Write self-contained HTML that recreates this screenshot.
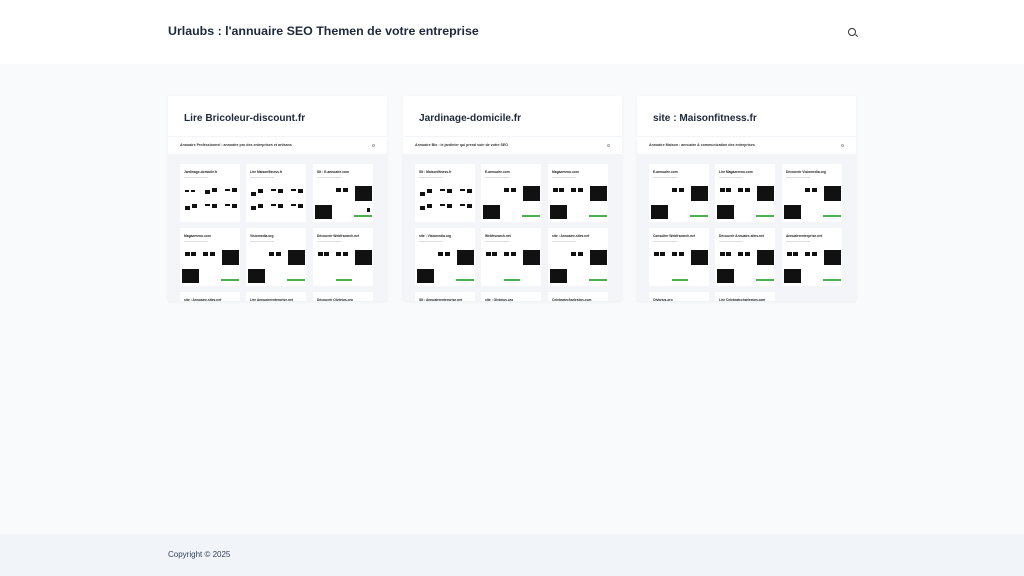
<!DOCTYPE html>
<html><head><meta charset="utf-8"><style>
*{margin:0;padding:0;box-sizing:border-box}
body{width:1024px;height:576px;background:#f8fafc;font-family:"Liberation Sans",sans-serif;position:relative;overflow:hidden;color:#1e293b}
.hdr{position:absolute;left:0;top:0;width:1024px;height:64px;background:#fff}
.hdr h1{position:absolute;left:168px;top:24px;font-size:12.4px;font-weight:bold;color:#1e293b;white-space:nowrap}
.srch{position:absolute;left:848px;top:28px;width:8px;height:8px;border:1.3px solid #333;border-radius:50%}
.srch:after{content:"";position:absolute;left:6px;top:6px;width:3px;height:1.3px;background:#333;transform:rotate(45deg)}
.ftr{position:absolute;left:0;top:534px;width:1024px;height:42px;background:#f1f5f9}
.ftr span{position:absolute;left:168px;top:16px;font-size:8px;color:#334155}
.card{position:absolute;top:96px;width:219px;height:205px;background:#fff;overflow:hidden;box-shadow:0 1px 3px rgba(0,0,0,.05)}
.card h2{position:absolute;left:16px;top:17px;font-size:10.1px;font-weight:bold;color:#1e293b;white-space:nowrap}
.sub{position:absolute;left:0;top:40px;width:219px;height:18px;border-top:1px solid #f1f5f9}
.sub span{position:absolute;left:12px;top:6px;font-size:3.6px;font-weight:bold;color:#333;white-space:nowrap}
.sub i{position:absolute;right:12px;top:7px;width:3px;height:3px;border:0.5px solid #aaa;border-radius:50%}
.gr{position:absolute;left:0;top:58px;width:219px;height:150px;background:#f3f5f8}
.t{position:absolute;width:60px;height:58px;background:#fff}
.t b{position:absolute;left:4px;top:6px;font-size:3.3px;color:#222;white-space:nowrap}
.t u{position:absolute;left:4px;top:13px;width:24px;height:1px;background:#ddd;text-decoration:none}
.k{position:absolute;background:#111}
.g{position:absolute;background:#4caf50}
</style></head><body>
<div class="hdr"><h1>Urlaubs : l'annuaire SEO Themen de votre entreprise</h1><div class="srch"></div></div>

<div class="card" style="left:168px"><h2>Lire Bricoleur-discount.fr</h2>
<div class="sub"><span>Annuaire Professionnel : annuaire pro des entreprises et artisans</span><i></i></div>
<div class="gr">
<div class="t" style="left:12px;top:10px"><b>Jardinage-domicile.fr</b><u></u>
<div class="k" style="left:5px;top:26px;width:4px;height:2px"></div><div class="k" style="left:11px;top:26px;width:4px;height:2px"></div><div class="k" style="left:25px;top:26px;width:5px;height:4px"></div><div class="k" style="left:32px;top:24px;width:5px;height:4px"></div><div class="k" style="left:45px;top:25px;width:5px;height:2px"></div><div class="k" style="left:52px;top:24px;width:5px;height:4px"></div>
<div class="k" style="left:5px;top:42px;width:5px;height:4px"></div><div class="k" style="left:12px;top:40px;width:5px;height:4px"></div><div class="k" style="left:25px;top:40px;width:5px;height:2px"></div><div class="k" style="left:32px;top:40px;width:5px;height:4px"></div><div class="k" style="left:45px;top:40px;width:5px;height:2px"></div><div class="k" style="left:52px;top:40px;width:5px;height:4px"></div></div>
<div class="t" style="left:78px;top:10px"><b>Lire Maisonfitness.fr</b><u></u>
<div class="k" style="left:5px;top:28px;width:5px;height:4px"></div><div class="k" style="left:12px;top:25px;width:5px;height:4px"></div><div class="k" style="left:25px;top:25px;width:5px;height:2px"></div><div class="k" style="left:32px;top:25px;width:5px;height:4px"></div><div class="k" style="left:45px;top:25px;width:5px;height:2px"></div><div class="k" style="left:52px;top:25px;width:5px;height:4px"></div>
<div class="k" style="left:5px;top:42px;width:5px;height:4px"></div><div class="k" style="left:12px;top:40px;width:5px;height:4px"></div><div class="k" style="left:25px;top:40px;width:5px;height:2px"></div><div class="k" style="left:32px;top:40px;width:5px;height:4px"></div><div class="k" style="left:45px;top:40px;width:5px;height:2px"></div><div class="k" style="left:52px;top:40px;width:5px;height:4px"></div></div>
<div class="t" style="left:145px;top:10px"><b>SIt : E-annuaire.com</b><u></u>
<div class="k" style="left:42px;top:22px;width:17px;height:15px"></div><div class="k" style="left:23px;top:24px;width:5px;height:4px"></div><div class="k" style="left:30px;top:24px;width:5px;height:4px"></div><div class="k" style="left:2px;top:41px;width:17px;height:14px"></div><div class="g" style="left:41px;top:51px;width:18px;height:2px"></div><div class="k" style="left:54px;top:44px;width:3px;height:4px"></div></div>
<div class="t" style="left:12px;top:74px"><b>Magazereno.com</b><u></u>
<div class="k" style="left:42px;top:22px;width:17px;height:15px"></div><div class="k" style="left:5px;top:24px;width:5px;height:4px"></div><div class="k" style="left:11px;top:24px;width:5px;height:4px"></div><div class="k" style="left:23px;top:24px;width:5px;height:4px"></div><div class="k" style="left:30px;top:24px;width:5px;height:4px"></div><div class="k" style="left:2px;top:41px;width:17px;height:14px"></div><div class="g" style="left:41px;top:51px;width:18px;height:2px"></div></div>
<div class="t" style="left:78px;top:74px"><b>Visiomedia.org</b><u></u>
<div class="k" style="left:42px;top:22px;width:17px;height:15px"></div><div class="k" style="left:23px;top:24px;width:5px;height:4px"></div><div class="k" style="left:30px;top:24px;width:5px;height:4px"></div><div class="k" style="left:2px;top:41px;width:17px;height:14px"></div><div class="g" style="left:41px;top:51px;width:18px;height:2px"></div></div>
<div class="t" style="left:145px;top:74px"><b>Découvrir Webfrsearch.net</b><u></u>
<div class="k" style="left:42px;top:22px;width:17px;height:15px"></div><div class="k" style="left:5px;top:24px;width:5px;height:4px"></div><div class="k" style="left:11px;top:24px;width:5px;height:4px"></div><div class="k" style="left:23px;top:24px;width:5px;height:4px"></div><div class="k" style="left:30px;top:24px;width:5px;height:4px"></div><div class="g" style="left:23px;top:51px;width:16px;height:2px"></div></div>
<div class="t" style="left:12px;top:138px"><b>site : Annuaire-sites.net</b></div>
<div class="t" style="left:78px;top:138px"><b>Lire Annuaireentreprise.net</b></div>
<div class="t" style="left:145px;top:138px"><b>Découvrir Olybrius.org</b></div>
</div></div>

<div class="card" style="left:403px"><h2>Jardinage-domicile.fr</h2>
<div class="sub"><span>Annuaire Bio : le jardinier qui prend soin de votre SEO</span><i></i></div>
<div class="gr">
<div class="t" style="left:12px;top:10px"><b>SIt : Maisonfitness.fr</b><u></u>
<div class="k" style="left:5px;top:28px;width:5px;height:4px"></div><div class="k" style="left:12px;top:25px;width:5px;height:4px"></div><div class="k" style="left:25px;top:25px;width:5px;height:2px"></div><div class="k" style="left:32px;top:25px;width:5px;height:4px"></div><div class="k" style="left:45px;top:25px;width:5px;height:2px"></div><div class="k" style="left:52px;top:25px;width:5px;height:4px"></div>
<div class="k" style="left:5px;top:42px;width:5px;height:4px"></div><div class="k" style="left:12px;top:40px;width:5px;height:4px"></div><div class="k" style="left:25px;top:40px;width:5px;height:2px"></div><div class="k" style="left:32px;top:40px;width:5px;height:4px"></div><div class="k" style="left:45px;top:40px;width:5px;height:2px"></div><div class="k" style="left:52px;top:40px;width:5px;height:4px"></div></div>
<div class="t" style="left:78px;top:10px"><b>E-annuaire.com</b><u></u>
<div class="k" style="left:42px;top:22px;width:17px;height:15px"></div><div class="k" style="left:23px;top:24px;width:5px;height:4px"></div><div class="k" style="left:30px;top:24px;width:5px;height:4px"></div><div class="k" style="left:2px;top:41px;width:17px;height:14px"></div><div class="g" style="left:41px;top:51px;width:18px;height:2px"></div></div>
<div class="t" style="left:145px;top:10px"><b>Magazereno.com</b><u></u>
<div class="k" style="left:42px;top:22px;width:17px;height:15px"></div><div class="k" style="left:5px;top:24px;width:5px;height:4px"></div><div class="k" style="left:11px;top:24px;width:5px;height:4px"></div><div class="k" style="left:23px;top:24px;width:5px;height:4px"></div><div class="k" style="left:30px;top:24px;width:5px;height:4px"></div><div class="k" style="left:2px;top:41px;width:17px;height:14px"></div><div class="g" style="left:41px;top:51px;width:18px;height:2px"></div></div>
<div class="t" style="left:12px;top:74px"><b>site : Visiomedia.org</b><u></u>
<div class="k" style="left:42px;top:22px;width:17px;height:15px"></div><div class="k" style="left:23px;top:24px;width:5px;height:4px"></div><div class="k" style="left:30px;top:24px;width:5px;height:4px"></div><div class="k" style="left:2px;top:41px;width:17px;height:14px"></div><div class="g" style="left:41px;top:51px;width:18px;height:2px"></div></div>
<div class="t" style="left:78px;top:74px"><b>Webfrsearch.net</b><u></u>
<div class="k" style="left:42px;top:22px;width:17px;height:15px"></div><div class="k" style="left:5px;top:24px;width:5px;height:4px"></div><div class="k" style="left:11px;top:24px;width:5px;height:4px"></div><div class="k" style="left:23px;top:24px;width:5px;height:4px"></div><div class="k" style="left:30px;top:24px;width:5px;height:4px"></div><div class="g" style="left:23px;top:51px;width:16px;height:2px"></div></div>
<div class="t" style="left:145px;top:74px"><b>site : Annuaire-sites.net</b><u></u>
<div class="k" style="left:42px;top:22px;width:17px;height:15px"></div><div class="k" style="left:23px;top:24px;width:5px;height:4px"></div><div class="k" style="left:30px;top:24px;width:5px;height:4px"></div><div class="k" style="left:2px;top:41px;width:17px;height:14px"></div><div class="g" style="left:41px;top:51px;width:18px;height:2px"></div></div>
<div class="t" style="left:12px;top:138px"><b>SIt : Annuaireentreprise.net</b></div>
<div class="t" style="left:78px;top:138px"><b>site : Olybrius.org</b></div>
<div class="t" style="left:145px;top:138px"><b>Celebratecharleston.com</b></div>
</div></div>

<div class="card" style="left:637px"><h2>site : Maisonfitness.fr</h2>
<div class="sub"><span>Annuaire Maison : annuaire &amp; communication des entreprises</span><i></i></div>
<div class="gr">
<div class="t" style="left:12px;top:10px"><b>E-annuaire.com</b><u></u>
<div class="k" style="left:42px;top:22px;width:17px;height:15px"></div><div class="k" style="left:23px;top:24px;width:5px;height:4px"></div><div class="k" style="left:30px;top:24px;width:5px;height:4px"></div><div class="k" style="left:2px;top:41px;width:17px;height:14px"></div><div class="g" style="left:41px;top:51px;width:18px;height:2px"></div></div>
<div class="t" style="left:78px;top:10px"><b>Lire Magazereno.com</b><u></u>
<div class="k" style="left:42px;top:22px;width:17px;height:15px"></div><div class="k" style="left:5px;top:24px;width:5px;height:4px"></div><div class="k" style="left:11px;top:24px;width:5px;height:4px"></div><div class="k" style="left:23px;top:24px;width:5px;height:4px"></div><div class="k" style="left:30px;top:24px;width:5px;height:4px"></div><div class="k" style="left:2px;top:41px;width:17px;height:14px"></div><div class="g" style="left:41px;top:51px;width:18px;height:2px"></div></div>
<div class="t" style="left:145px;top:10px"><b>Découvrir Visiomedia.org</b><u></u>
<div class="k" style="left:42px;top:22px;width:17px;height:15px"></div><div class="k" style="left:23px;top:24px;width:5px;height:4px"></div><div class="k" style="left:30px;top:24px;width:5px;height:4px"></div><div class="k" style="left:2px;top:41px;width:17px;height:14px"></div><div class="g" style="left:41px;top:51px;width:18px;height:2px"></div></div>
<div class="t" style="left:12px;top:74px"><b>Consulter Webfrsearch.net</b><u></u>
<div class="k" style="left:42px;top:22px;width:17px;height:15px"></div><div class="k" style="left:5px;top:24px;width:5px;height:4px"></div><div class="k" style="left:11px;top:24px;width:5px;height:4px"></div><div class="k" style="left:23px;top:24px;width:5px;height:4px"></div><div class="k" style="left:30px;top:24px;width:5px;height:4px"></div><div class="g" style="left:23px;top:51px;width:16px;height:2px"></div></div>
<div class="t" style="left:78px;top:74px"><b>Découvrir Annuaire-sites.net</b><u></u>
<div class="k" style="left:42px;top:22px;width:17px;height:15px"></div><div class="k" style="left:5px;top:24px;width:5px;height:4px"></div><div class="k" style="left:11px;top:24px;width:5px;height:4px"></div><div class="k" style="left:23px;top:24px;width:5px;height:4px"></div><div class="k" style="left:30px;top:24px;width:5px;height:4px"></div><div class="k" style="left:2px;top:41px;width:17px;height:14px"></div><div class="g" style="left:41px;top:51px;width:18px;height:2px"></div></div>
<div class="t" style="left:145px;top:74px"><b>Annuaireentreprise.net</b><u></u>
<div class="k" style="left:42px;top:22px;width:17px;height:15px"></div><div class="k" style="left:5px;top:24px;width:5px;height:4px"></div><div class="k" style="left:11px;top:24px;width:5px;height:4px"></div><div class="k" style="left:23px;top:24px;width:5px;height:4px"></div><div class="k" style="left:30px;top:24px;width:5px;height:4px"></div><div class="k" style="left:2px;top:41px;width:17px;height:14px"></div><div class="g" style="left:41px;top:51px;width:18px;height:2px"></div></div>
<div class="t" style="left:12px;top:138px"><b>Olybrius.org</b></div>
<div class="t" style="left:78px;top:138px"><b>Lire Celebratecharleston.com</b></div>
</div></div>

<div class="ftr"><span>Copyright © 2025</span></div>
</body></html>
